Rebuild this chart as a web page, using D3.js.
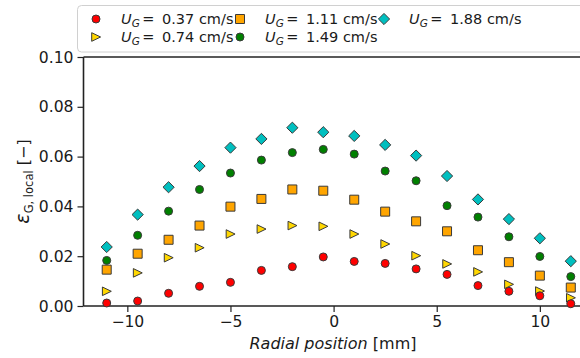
<!DOCTYPE html>
<html><head><meta charset="utf-8">
<script src="https://cdn.jsdelivr.net/npm/d3@7"></script>
<style>
body{margin:0;background:#fff;}
text{font-family:"DejaVu Sans",sans-serif;fill:#1a1a1a;}
</style></head>
<body><svg id="c" width="580" height="358"></svg>
<script>
const radialPositions = [-11,-9.5,-8,-6.5,-5,-3.5,-2,-0.5,1,2.5,4,5.5,7,8.5,10,11.5];
const ug037 = [0.0012,0.0020,0.0051,0.0079,0.0095,0.0143,0.0158,0.0197,0.0179,0.0171,0.0149,0.0127,0.0082,0.0059,0.0041,0.0009];
const ug074 = [0.0059,0.0133,0.0194,0.0234,0.0289,0.0309,0.0323,0.0320,0.0289,0.0249,0.0202,0.0169,0.0137,0.0087,0.0060,0.0033];
const ug111 = [0.0146,0.0210,0.0266,0.0323,0.0399,0.0430,0.0468,0.0463,0.0427,0.0379,0.0340,0.0300,0.0224,0.0176,0.0122,0.0074];
const ug149 = [0.0183,0.0284,0.0381,0.0468,0.0534,0.0586,0.0616,0.0629,0.0610,0.0542,0.0503,0.0403,0.0357,0.0278,0.0199,0.0118];
const ug188 = [0.0237,0.0367,0.0477,0.0562,0.0636,0.0671,0.0716,0.0698,0.0683,0.0647,0.0604,0.0522,0.0428,0.0349,0.0272,0.0180];
const seriesLabels = ["0.37","0.74","1.11","1.49","1.88"];
const xTicks = [-10,-5,0,5,10];
const yTicks = [0.00,0.02,0.04,0.06,0.08,0.10];

const series = [
  {label:seriesLabels[0], values:ug037, shape:"circle", color:"#ff0000"},
  {label:seriesLabels[1], values:ug074, shape:"triright", color:"#ffd700"},
  {label:seriesLabels[2], values:ug111, shape:"square", color:"#ffa500"},
  {label:seriesLabels[3], values:ug149, shape:"circle", color:"#008000"},
  {label:seriesLabels[4], values:ug188, shape:"diamond", color:"#00bfbf"}
];

const svg = d3.select("#c");
const L=83.5, T=57, B=306, R=594;
const x = d3.scaleLinear().domain([-12.125,12.625]).range([L,R]);
const y = d3.scaleLinear().domain([0,0.10]).range([B,T]);

function shapePath(s){
  if(s==="circle") return d3.symbol(d3.symbolCircle, Math.PI*4*4)();
  if(s==="square") return "M-4.5,-4.5H4.5V4.5H-4.5Z";
  if(s==="diamond") return "M0,-5.6L5.6,0L0,5.6L-5.6,0Z";
  if(s==="triright") return "M4.6,0L-4.3,-4.3L-4.3,4.3Z";
}

// axes frame
const g = svg.append("g");
g.append("line").attr("x1",L).attr("x2",R).attr("y1",T).attr("y2",T).attr("stroke","#222").attr("stroke-width",1.6);
g.append("line").attr("x1",L).attr("x2",L).attr("y1",T).attr("y2",B).attr("stroke","#222").attr("stroke-width",1.6);
g.append("line").attr("x1",L).attr("x2",R).attr("y1",B).attr("y2",B).attr("stroke","#222").attr("stroke-width",1.6);

// x axis
const xa = svg.append("g").attr("transform",`translate(0,${B})`)
  .call(d3.axisBottom(x).tickValues(xTicks).tickSize(6).tickPadding(4).tickFormat(d=>d<0?"\u2212"+Math.abs(d):d));
xa.select(".domain").remove();
xa.selectAll("line").attr("stroke","#222").attr("stroke-width",1.2);
xa.selectAll("text").style("font-size","15.6px").attr("fill","#1a1a1a");

// y axis
const ya = svg.append("g").attr("transform",`translate(${L},0)`)
  .call(d3.axisLeft(y).tickValues(yTicks).tickSize(6).tickPadding(4).tickFormat(d3.format(".2f")));
ya.select(".domain").remove();
ya.selectAll("line").attr("stroke","#222").attr("stroke-width",1.2);
ya.selectAll("text").style("font-size","15.6px").attr("fill","#1a1a1a");

// points (drawn in reverse order so low-velocity markers sit on top)
const pts = svg.append("g");
series.slice().reverse().forEach(s=>{
  pts.append("g").selectAll("path").data(s.values.map((v,i)=>[radialPositions[i],v])).join("path")
    .attr("d",shapePath(s.shape))
    .attr("transform",d=>`translate(${x(d[0])},${y(d[1])})`)
    .attr("fill",s.color).attr("stroke","#3a3a3a").attr("stroke-width",1);
});

// x label
const xl = svg.append("text").attr("x",333).attr("y",349).attr("text-anchor","middle").style("font-size","16px");
xl.append("tspan").attr("font-style","italic").text("Radial position");
xl.append("tspan").text(" [mm]");

// y label
const yl = svg.append("text").attr("transform","translate(29,181.5) rotate(-90)").attr("text-anchor","middle").style("font-size","16px");
yl.append("tspan").attr("font-style","italic").style("font-size","19px").text("\u03b5");
yl.append("tspan").style("font-size","11.5px").attr("dy",4).text("G, local");
yl.append("tspan").attr("dy",-4).text(" [\u2212]");

// legend
const lg = svg.append("g");
lg.append("rect").attr("x",77.5).attr("y",5.5).attr("width",520).attr("height",46.5).attr("rx",4)
  .attr("fill","#fff").attr("fill-opacity",0.8).attr("stroke","#d0d0d0").attr("stroke-width",1);
const colX = [96,240,384];
const rowY = [19,37];
series.forEach((s,i)=>{
  const col = Math.floor(i/2), row = i%2;
  const mx = colX[col], my = rowY[row];
  lg.append("path").attr("d",shapePath(s.shape)).attr("transform",`translate(${mx},${my})`)
    .attr("fill",s.color).attr("stroke","#3a3a3a").attr("stroke-width",1);
  const tx = mx+25;
  const t = lg.append("text").attr("x",tx).attr("y",my+5).style("font-size","14.5px");
  t.append("tspan").attr("font-style","italic").text("U");
  t.append("tspan").attr("font-style","italic").style("font-size","10.5px").attr("dy",3).text("G");
  t.append("tspan").attr("dy",-3).attr("dx",2.5).text("=");
  lg.append("text").attr("x",tx+41).attr("y",my+5).style("font-size","14.5px").text(s.label+" cm/s");
});
</script></body></html>
